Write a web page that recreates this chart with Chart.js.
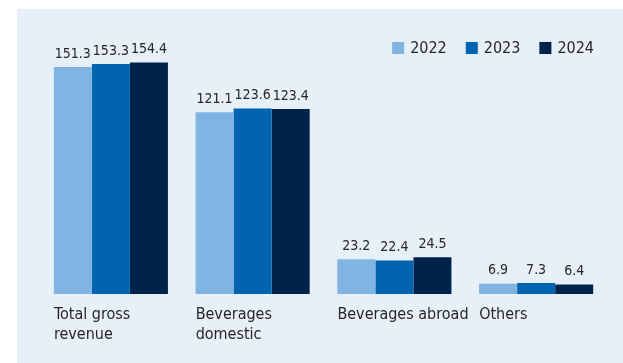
<!DOCTYPE html>
<html>
<head>
<meta charset="utf-8">
<script src="https://cdn.jsdelivr.net/npm/chart.js@4"></script>
<style>
  html, body { margin: 0; padding: 0; background: #ffffff; }
  #wrap { position: relative; width: 623px; height: 363px; }
</style>
</head>
<body>
<div id="wrap"><canvas id="chart" width="623" height="363"></canvas></div>
<script>
const categories = [['Total gross', 'revenue'], ['Beverages', 'domestic'], ['Beverages abroad'], ['Others']];
const years = ['2022', '2023', '2024'];
const values2022 = [151.3, 121.1, 23.2, 6.9];
const values2023 = [153.3, 123.6, 22.4, 7.3];
const values2024 = [154.4, 123.4, 24.5, 6.4];
const colors = ['#80b4e2', '#0064b0', '#00234c'];

const FONT = '"Liberation Sans Narrow", "DejaVu Sans Condensed", "Roboto Condensed", sans-serif';
const TEXT = '#262626';

// light blue panel behind everything
const panelBg = {
  id: 'panelBg',
  beforeDraw(chart) {
    const ctx = chart.ctx;
    ctx.save();
    ctx.fillStyle = '#e7eff9';
    ctx.fillRect(17, 9, chart.width - 17, chart.height - 9);
    ctx.restore();
  }
};

// values above the bars
const barValues = {
  id: 'barValues',
  afterDatasetsDraw(chart) {
    const ctx = chart.ctx;
    ctx.save();
    ctx.font = '14px ' + FONT;
    ctx.fillStyle = TEXT;
    ctx.textAlign = 'center';
    ctx.textBaseline = 'bottom';
    chart.data.datasets.forEach((ds, i) => {
      chart.getDatasetMeta(i).data.forEach((bar, j) => {
        ctx.fillText(ds.data[j].toFixed(1), bar.x, bar.y - 6);
      });
    });
    ctx.restore();
  }
};

// legend in the top right corner
const cornerLegend = {
  id: 'cornerLegend',
  afterDraw(chart) {
    const ctx = chart.ctx;
    ctx.save();
    ctx.font = '16px ' + FONT;
    ctx.textBaseline = 'middle';
    let x = 594;
    const y = 48;
    const sets = chart.data.datasets.slice().reverse();
    sets.forEach(ds => {
      const tw = ctx.measureText(ds.label).width;
      ctx.fillStyle = TEXT;
      ctx.fillText(ds.label, x - tw, y + 1);
      const bx = x - tw - 6 - 12;
      ctx.fillStyle = ds.backgroundColor;
      ctx.fillRect(bx, y - 6, 12, 12);
      x = bx - 19;
    });
    ctx.restore();
  }
};

new Chart(document.getElementById('chart'), {
  type: 'bar',
  data: {
    labels: categories,
    datasets: [
      { label: years[0], data: values2022, backgroundColor: colors[0] },
      { label: years[1], data: values2023, backgroundColor: colors[1] },
      { label: years[2], data: values2024, backgroundColor: colors[2] }
    ]
  },
  options: {
    responsive: false,
    animation: false,
    layout: { padding: { top: 39, left: 40, right: 16, bottom: 7 } },
    datasets: {
      bar: { barPercentage: 1, categoryPercentage: 0.805, borderWidth: 0 }
    },
    plugins: {
      legend: { display: false },
      tooltip: { enabled: false }
    },
    scales: {
      x: {
        grid: { display: false, drawTicks: false },
        border: { display: false },
        ticks: {
          align: 'start',
          labelOffset: -57,
          padding: 11,
          maxRotation: 0,
          minRotation: 0,
          autoSkip: false,
          color: TEXT,
          font: { family: FONT, size: 16, lineHeight: 1.25 }
        }
      },
      y: {
        display: false,
        min: 0,
        max: 170
      }
    }
  },
  plugins: [panelBg, barValues, cornerLegend]
});
</script>
</body>
</html>
